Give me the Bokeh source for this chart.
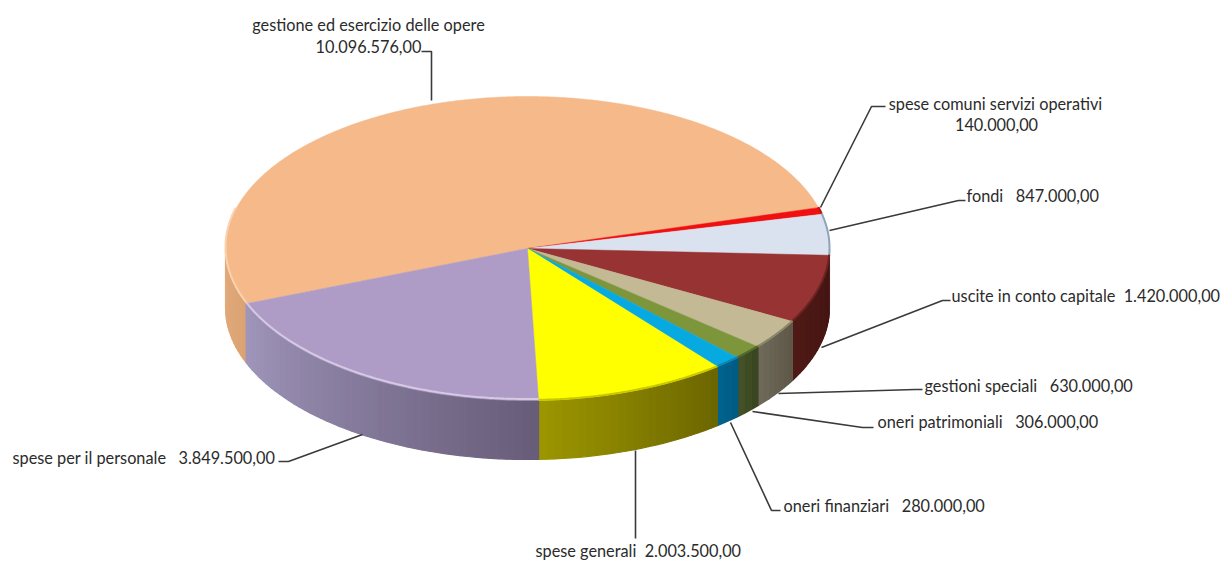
import math
from bokeh.plotting import figure
from bokeh.models import ColumnDataSource, Range1d
from bokeh.core.properties import value
from bokeh.embed import file_html
from bokeh.resources import INLINE

# ---- data (clockwise from the large slice) ----
categories = ["gestione ed esercizio delle opere", "spese comuni servizi operativi", "fondi",
              "uscite in conto capitale", "gestioni speciali", "oneri patrimoniali",
              "oneri finanziari", "spese generali", "spese per il personale"]
amounts = [10096576, 140000, 847000, 1420000, 630000, 306000, 280000, 2003500, 3849500]

# ---- styles ----
top_colors = ["#f5b98a", "#f01010", "#dae2f0", "#973333", "#c3b995", "#7d963c", "#06a9e0", "#ffff00", "#ae9cc6"]
rim_colors = ["#fbd2ae", "#c01010", "#8fa3bb", "#6a2222", "#8c8468", "#55682c", "#0a86b2", "#c9c900", "#d5c9e4"]
wall_left = ["#e2ab7c", "#a00c0c", "#98a0ac", "#4f1a16", "#6f6a5a", "#45532a", "#00648f", "#9c9600", "#a096bb"]
wall_right = ["#dba273", "#a00c0c", "#98a0ac", "#431412", "#5e5646", "#38441f", "#005a82", "#6b6500", "#675c78"]

CX, CY, RX, RY, DEPTH = 527.0, 248.0, 302.0, 152.0, 59.0
START = 201.3
TEXT = "#2b2b2b"
LINE = "#3a3a3a"
NB = "\u00a0"


def hex2rgb(h):
    return tuple(int(h[i:i + 2], 16) for i in (1, 3, 5))


def mix(a, b, t):
    a, b = hex2rgb(a), hex2rgb(b)
    return "#%02x%02x%02x" % tuple(round(a[i] + (b[i] - a[i]) * t) for i in range(3))


def pt(theta, drop=0.0):
    r = math.radians(theta)
    return CX + RX * math.cos(r), CY - RY * math.sin(r) + drop


def fmt(v):
    return f"{v:,.2f}".replace(",", "#").replace(".", ",").replace("#", ".")


p = figure(width=1223, height=563, output_backend="svg", toolbar_location=None,
           x_range=Range1d(0, 1223), y_range=Range1d(563, 0), min_border=0,
           background_fill_color="white", border_fill_color="white")
p.axis.visible = False
p.grid.visible = False
p.outline_line_color = None

total = sum(amounts)
spans = []
a = START
for v in amounts:
    b = a - 360.0 * v / total
    spans.append((a, b))
    a = b

# side wall strips: the visible wall is math angle 180..360, i.e. also -180..0
wx, wy, wc = [], [], []
for (a, b), cl, cr in zip(spans, wall_left, wall_right):
    for vis_lo, vis_hi in ((180.0, min(a, 360.0)), (max(b, -180.0), min(a, 0.0))):
        vis_lo = max(vis_lo, b)
        if vis_hi <= vis_lo:
            continue
        n = max(1, int((vis_hi - vis_lo) / 1.5))
        for i in range(n):
            t0 = vis_hi - (vis_hi - vis_lo) * i / n
            t1 = vis_hi - (vis_hi - vis_lo) * (i + 1) / n
            x0, y0 = pt(t0)
            x1, y1 = pt(t1)
            x2, y2 = pt(t1, DEPTH)
            x3, y3 = pt(t0, DEPTH)
            wx.append([x0, x1, x2, x3])
            wy.append([y0, y1, y2, y3])
            # clockwise along the front runs right to left
            wc.append(mix(cr, cl, (i + 0.5) / n))
p.patches(wx, wy, fill_color=wc, line_color=wc, line_width=1.2)

# top faces
fx, fy = [], []
for a, b in spans:
    n = max(2, int((a - b) * 2))
    pts = [pt(a - (a - b) * i / n) for i in range(n + 1)]
    fx.append([CX] + [q[0] for q in pts])
    fy.append([CY] + [q[1] for q in pts])
p.patches(fx, fy, fill_color=top_colors, line_color=top_colors, line_width=0.5)

# rim highlight: the far edge of the big slice has none
rx, ry = [], []
for k, (a, b) in enumerate(spans):
    if k == 0:
        b = 165.0
    n = max(2, int((a - b) * 2))
    pts = [pt(a - (a - b) * i / n, -1.5 if k in (0, 8) else -0.6) for i in range(n + 1)]
    rx.append([q[0] for q in pts])
    ry.append([q[1] for q in pts])
p.multi_line(rx, ry, line_color=rim_colors, line_width=2.0)

# leader lines (layout, in page pixels)
leaders = [
    ([431, 431, 421], [100, 51, 51]),
    ([820, 871, 885], [207, 106, 106]),
    ([829, 958, 965], [230, 200, 200]),
    ([821, 942, 950], [347, 300, 300]),
    ([778, 915, 922], [393, 389, 389]),
    ([752, 862, 873], [411, 427, 427]),
    ([730, 771, 780], [422, 510, 510]),
    ([635, 635], [450, 538]),
    ([362, 288, 278], [434, 461, 461]),
]
p.multi_line([l[0] for l in leaders], [l[1] for l in leaders], line_color=LINE, line_width=1.6)

# labels
gap = {2: NB * 3, 3: NB * 2, 4: NB * 3, 5: NB * 3, 6: NB * 3, 7: NB * 2, 8: NB * 3}
lab_text = [categories[0], fmt(amounts[0]), categories[1], fmt(amounts[1])]
lab_x = [368, 368, 995, 996]
lab_y = [24, 46, 103, 124]
lab_al = ["center", "center", "center", "center"]
for i, (x, y) in zip(range(2, 9), [(966, 195), (951, 295), (924, 385), (877, 421), (783, 505), (535, 550), (12, 457)]):
    lab_text.append(categories[i] + gap[i] + fmt(amounts[i]))
    lab_x.append(x)
    lab_y.append(y)
    lab_al.append("left")
src = ColumnDataSource(dict(x=lab_x, y=lab_y, t=lab_text, al=lab_al))
p.text("x", "y", text="t", source=src, text_align="al", text_baseline="middle",
       text_font=value("Lato"), text_font_size="16.3px", text_color=TEXT)

open("out.html", "w").write(file_html(p, INLINE))
